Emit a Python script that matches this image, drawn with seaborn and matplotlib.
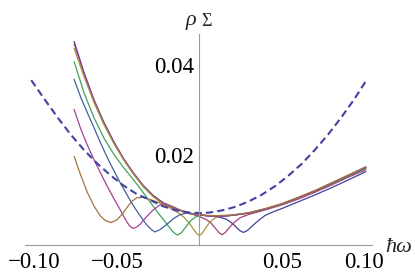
import numpy as np
import pandas as pd
import matplotlib
matplotlib.use("Agg")
import matplotlib.pyplot as plt
import seaborn as sns

# curve 1 (dark blue, dip near +0.027)
x_c1 = [-0.076, -0.070, -0.064, -0.058, -0.052, -0.046, -0.040, -0.034, -0.028, -0.022, -0.016, -0.010,
        -0.004, 0.002, 0.008, 0.012, 0.016, 0.019, 0.022, 0.0245, 0.0267, 0.029, 0.032, 0.036, 0.040,
        0.045, 0.050, 0.060, 0.070, 0.080, 0.090, 0.101]
y_c1 = [0.0452, 0.0383, 0.0323, 0.0273, 0.0230, 0.0192, 0.0160, 0.0132, 0.0110, 0.0094, 0.0083, 0.0075,
        0.0069, 0.0066, 0.0064, 0.0062, 0.0058, 0.0051, 0.0041, 0.0032, 0.0028, 0.0032, 0.0042, 0.0055, 0.0066,
        0.0074, 0.0081, 0.0096, 0.0111, 0.0127, 0.0144, 0.0163]

# curve 2 (red-magenta, dip near +0.013)
x_c2 = [-0.076, -0.070, -0.064, -0.058, -0.052, -0.046, -0.040, -0.034, -0.028, -0.022, -0.016, -0.010,
        -0.004, 0.0, 0.004, 0.007, 0.0095, 0.012, 0.0137, 0.0155, 0.018, 0.021, 0.025, 0.030, 0.035,
        0.040, 0.050, 0.060, 0.070, 0.080, 0.090, 0.101]
y_c2 = [0.0447, 0.0380, 0.0321, 0.0271, 0.0229, 0.0191, 0.0159, 0.0131, 0.0109, 0.0093, 0.0082, 0.0074,
        0.0068, 0.0063, 0.0057, 0.0049, 0.0038, 0.0027, 0.0023, 0.0027, 0.0038, 0.0050, 0.0061, 0.0068, 0.0073,
        0.0078, 0.0089, 0.0102, 0.0117, 0.0133, 0.0150, 0.0167]

# curve 3 (gold, dip at 0)
x_c3 = [-0.076, -0.070, -0.064, -0.058, -0.052, -0.046, -0.040, -0.034, -0.028, -0.022, -0.017, -0.013,
        -0.0095, -0.006, -0.0034, -0.0015, 0.0, 0.0015, 0.0035, 0.0065, 0.0095, 0.013, 0.020, 0.030,
        0.040, 0.050, 0.060, 0.070, 0.080, 0.090, 0.101]
y_c3 = [0.0437, 0.0374, 0.0317, 0.0268, 0.0226, 0.0189, 0.0157, 0.0129, 0.0107, 0.0091, 0.0080, 0.0072,
        0.0062, 0.0048, 0.0034, 0.0025, 0.0021, 0.0025, 0.0036, 0.0052, 0.0060, 0.0064, 0.0066, 0.0071,
        0.0080, 0.0090, 0.0104, 0.0119, 0.0135, 0.0152, 0.0170]

# curve 4 (green, dip near -0.013)
x_c4 = [-0.076, -0.070, -0.064, -0.058, -0.052, -0.046, -0.040, -0.035, -0.030, -0.026, -0.022, -0.019,
        -0.016, -0.0134, -0.011, -0.008, -0.005, -0.002, 0.002, 0.008, 0.014, 0.020, 0.030, 0.040,
        0.050, 0.060, 0.070, 0.080, 0.090, 0.101]
y_c4 = [0.0407, 0.0338, 0.0283, 0.0238, 0.0202, 0.0172, 0.0145, 0.0121, 0.0096, 0.0076, 0.0057, 0.0043,
        0.0029, 0.0022, 0.0027, 0.0041, 0.0055, 0.0063, 0.0066, 0.0064, 0.0064, 0.0066, 0.0071, 0.0080,
        0.0091, 0.0105, 0.0120, 0.0136, 0.0153, 0.0171]

# curve 5 (blue, dip near -0.027)
x_c5 = [-0.076, -0.072, -0.068, -0.064, -0.060, -0.056, -0.052, -0.048, -0.044, -0.040, -0.036, -0.032,
        -0.029, -0.0269, -0.024, -0.020, -0.016, -0.012, -0.008, -0.004, 0.002, 0.008, 0.014, 0.020,
        0.030, 0.040, 0.050, 0.060, 0.070, 0.080, 0.090, 0.101]
y_c5 = [0.0368, 0.0328, 0.0294, 0.0261, 0.0227, 0.0195, 0.0166, 0.0138, 0.0112, 0.0087, 0.0065, 0.0045,
        0.0034, 0.0029, 0.0034, 0.0045, 0.0058, 0.0067, 0.0071, 0.0069, 0.0066, 0.0064, 0.0064, 0.0066,
        0.0071, 0.0080, 0.0091, 0.0105, 0.0120, 0.0136, 0.0153, 0.0172]

# curve 6 (magenta, dip near -0.040)
x_c6 = [-0.076, -0.072, -0.068, -0.064, -0.060, -0.056, -0.052, -0.048, -0.044, -0.042, -0.0402, -0.038,
        -0.036, -0.032, -0.028, -0.024, -0.020, -0.016, -0.010, -0.004, 0.002, 0.008, 0.014, 0.020,
        0.030, 0.040, 0.050, 0.060, 0.070, 0.080, 0.090, 0.101]
y_c6 = [0.0301, 0.0258, 0.0222, 0.0190, 0.0160, 0.0131, 0.0104, 0.0078, 0.0051, 0.0041, 0.0037, 0.0040,
        0.0046, 0.0063, 0.0078, 0.0089, 0.0091, 0.0085, 0.0075, 0.0069, 0.0066, 0.0064, 0.0064, 0.0066,
        0.0071, 0.0080, 0.0091, 0.0105, 0.0120, 0.0137, 0.0154, 0.0173]

# curve 7 (brown, dip near -0.054)
x_c7 = [-0.076, -0.072, -0.068, -0.064, -0.060, -0.057, -0.0536, -0.050, -0.047, -0.044, -0.041, -0.038,
        -0.034, -0.030, -0.025, -0.020, -0.014, -0.008, -0.002, 0.004, 0.010, 0.020, 0.030, 0.040,
        0.050, 0.060, 0.070, 0.080, 0.090, 0.101]
y_c7 = [0.0197, 0.0155, 0.0117, 0.0087, 0.0064, 0.0054, 0.0050, 0.0056, 0.0068, 0.0083, 0.0097, 0.0105,
        0.0106, 0.0101, 0.0095, 0.0088, 0.0080, 0.0073, 0.0068, 0.0066, 0.0065, 0.0067, 0.0072, 0.0081,
        0.0092, 0.0106, 0.0121, 0.0138, 0.0155, 0.0174]

# dashed reference curve
x_dash = [-0.102, -0.094, -0.086, -0.078, -0.070, -0.062, -0.054, -0.046, -0.038, -0.030, -0.022, -0.014,
          -0.006, 0.0, 0.006, 0.014, 0.022, 0.030, 0.038, 0.046, 0.054, 0.062, 0.070, 0.078, 0.086,
          0.094, 0.101]
y_dash = [0.0366, 0.0324, 0.0283, 0.0245, 0.0211, 0.0181, 0.0155, 0.0132, 0.0113, 0.0100, 0.0086, 0.0077,
          0.0072, 0.0071, 0.0072, 0.0077, 0.0085, 0.0097, 0.0112, 0.0131, 0.0154, 0.0180, 0.0211, 0.0245,
          0.0283, 0.0324, 0.0364]

x_ticks = [-0.10, -0.05, 0.05, 0.10]
x_tick_labels = ["\u22120.10", "\u22120.05", "0.05", "0.10"]
y_ticks = [0.02, 0.04]
y_tick_labels = ["0.02", "0.04"]

# Mathematica default plot colours
colors = ["#40409e", "#a23f78", "#a39442", "#40a25b", "#4060a2", "#a3409a", "#a37442"]
dash_color = "#4242a2"

sns.set_style("white")
plt.rcParams["font.family"] = ["Liberation Serif", "DejaVu Serif"]

curves = [x_c1, x_c2, x_c3, x_c4, x_c5, x_c6, x_c7]
values = [y_c1, y_c2, y_c3, y_c4, y_c5, y_c6, y_c7]
frames = []
for i, (xs, ys) in enumerate(zip(curves, values)):
    frames.append(pd.DataFrame({"w": xs, "rho": ys, "curve": f"c{i + 1}"}))
df = pd.concat(frames, ignore_index=True)

fig = plt.figure(figsize=(4.15, 2.74), dpi=100)
ax = fig.add_axes([0.0595, 0.1058, 0.836, 0.769])

sns.lineplot(data=df, x="w", y="rho", hue="curve", palette=colors, sort=False,
             estimator=None, legend=False, linewidth=0.9, ax=ax)
sns.lineplot(x=x_dash, y=y_dash, color=dash_color, sort=False, estimator=None,
             linewidth=1.5, ax=ax)
ax.get_lines()[-1].set_dashes((3.5, 2.0))

ax.set_xlim(-0.106, 0.1045)
ax.set_ylim(0, 0.0468)

# axes through the origin, Mathematica style
ax.spines["left"].set_position(("data", 0))
ax.spines["bottom"].set_position(("data", 0))
ax.spines["top"].set_visible(False)
ax.spines["right"].set_visible(False)
for s in ["left", "bottom"]:
    ax.spines[s].set_color("#9a9a9a")
    ax.spines[s].set_linewidth(0.8)

ax.set_xticks(x_ticks)
ax.set_xticklabels(x_tick_labels)
ax.set_yticks(y_ticks)
ax.set_yticklabels(y_tick_labels)
ax.set_xticks(np.arange(-0.10, 0.1001, 0.01), minor=True)
ax.set_yticks(np.arange(0.005, 0.0451, 0.005), minor=True)
ax.tick_params(which="major", direction="in", length=3.3, width=0.7, color="#9a9a9a",
               labelsize=16.5, labelcolor="black")
ax.tick_params(which="minor", direction="in", length=1.8, width=0.6, color="#9a9a9a")
ax.tick_params(axis="x", which="major", pad=5)
ax.tick_params(axis="y", which="major", pad=4)
ax.set_xlabel("")
ax.set_ylabel("")

fig.text(191 / 415, 1 - 20 / 274, "\u03c1", fontsize=16, style="italic", ha="center", va="center")
fig.text(206 / 415, 1 - 22 / 274, "\u03a3", fontsize=13, ha="center", va="center")
fig.text(399 / 415, 1 - 247 / 274, "\u0127\u03c9", fontsize=16, style="italic", ha="center", va="center")

fig.savefig("out.png", dpi=100)
